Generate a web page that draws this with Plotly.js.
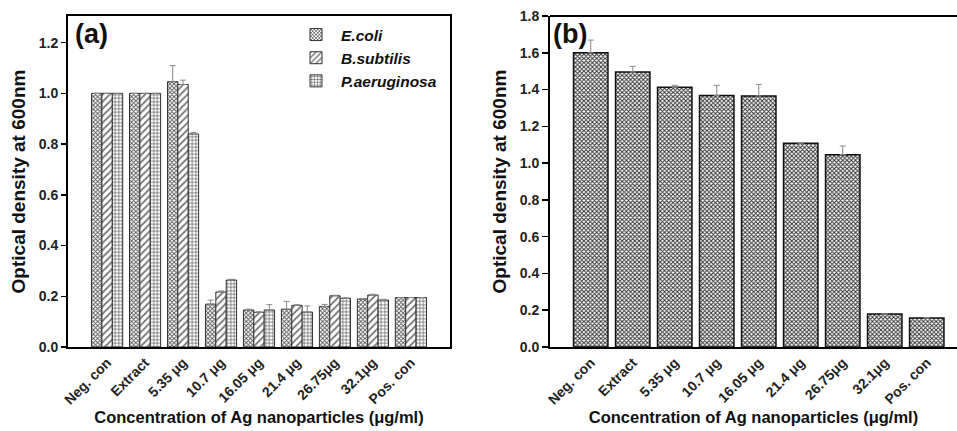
<!DOCTYPE html>
<html>
<head>
<meta charset="utf-8">
<script src="https://cdn.plot.ly/plotly-3.0.1.min.js"></script>
<style>html,body{margin:0;padding:0;background:#fff;}#chart{width:957px;height:431px;}</style>
</head>
<body>
<div id="chart"></div>
<script>
// Panel (a): categories and three bacterial series
const categories = ["Neg. con", "Extract", "5.35 μg", "10.7 μg", "16.05 μg", "21.4 μg", "26.75μg", "32.1μg", "Pos. con"];
const seriesNames = ["E.coli", "B.subtilis", "P.aeruginosa"];
const ecoli      = [1.0, 1.0, 1.046, 0.169, 0.146, 0.149, 0.160, 0.189, 0.195];
const ecoliErr   = [0.0, 0.0, 0.063, 0.016, 0.003, 0.031, 0.008, 0.002, 0.0];
const bsubtilis  = [1.0, 1.0, 1.035, 0.217, 0.137, 0.164, 0.202, 0.205, 0.195];
const bsubErr    = [0.0, 0.0, 0.017, 0.004, 0.002, 0.003, 0.002, 0.003, 0.0];
const paerug     = [1.0, 1.0, 0.840, 0.264, 0.146, 0.138, 0.192, 0.185, 0.195];
const paerErr    = [0.0, 0.0, 0.006, 0.003, 0.021, 0.024, 0.002, 0.003, 0.0];

// Panel (b): single series
const valuesB = [1.600, 1.495, 1.412, 1.367, 1.365, 1.108, 1.046, 0.179, 0.158];
const errB    = [0.069, 0.031, 0.011, 0.056, 0.063, 0.003, 0.047, 0.0, 0.0];

const yTicksA = [0, 0.2, 0.4, 0.6, 0.8, 1.0, 1.2];
const yTicksB = [0, 0.2, 0.4, 0.6, 0.8, 1.0, 1.2, 1.4, 1.6, 1.8];

const FONT = "Liberation Sans, Arial, sans-serif";
const zeros = categories.map(() => 0);

function errObj(arr) {
  return {type: "data", symmetric: false, array: arr, arrayminus: zeros,
          color: "#888", thickness: 1, width: 3, visible: true};
}

const patterns = [
  {shape: "x", size: 3, solidity: 0.5, fgcolor: "#555", bgcolor: "#fff"},
  {shape: "/", size: 5, solidity: 0.35, fgcolor: "#777", bgcolor: "#fff"},
  {shape: "+", size: 3.5, solidity: 0.35, fgcolor: "#555", bgcolor: "#fff"}
];
const seriesA = [ecoli, bsubtilis, paerug];
const errsA = [ecoliErr, bsubErr, paerErr];

const traces = seriesA.map((vals, i) => ({
  type: "bar", x: categories, y: vals, name: seriesNames[i],
  xaxis: "x", yaxis: "y",
  marker: {color: "#fff", line: {color: "#333", width: 1}, pattern: patterns[i]},
  error_y: errObj(errsA[i]),
  showlegend: true
}));

traces.push({
  type: "bar", x: categories, y: valuesB, name: "b",
  xaxis: "x2", yaxis: "y2", showlegend: false, offsetgroup: "b",
  marker: {color: "#fff", line: {color: "#111", width: 1.5},
           pattern: {shape: "x", size: 3, solidity: 0.55, fgcolor: "#333", bgcolor: "#fff"}},
  error_y: errObj(errB)
});

const axisCommon = {
  showline: true, linecolor: "#000", linewidth: 2, mirror: true,
  showgrid: false, zeroline: false, fixedrange: true
};
const tickFont = {family: FONT, size: 14, color: "#222", weight: "bold"};
const titleFont = {family: FONT, size: 19, color: "#111", weight: "bold"};
const xTitleFont = {family: FONT, size: 16.5, color: "#111", weight: "bold"};

const layout = {
  width: 957, height: 431,
  margin: {l: 0, r: 0, t: 0, b: 0},
  paper_bgcolor: "#fff", plot_bgcolor: "#fff",
  barmode: "group", bargap: 0.18, bargroupgap: 0,
  font: {family: FONT},
  xaxis: Object.assign({}, axisCommon, {
    domain: [68/957, 450/957], anchor: "y",
    range: [-1.03, 9.03], ticks: "", tickangle: -45, tickfont: tickFont,
    title: {text: "Concentration of Ag nanoparticles (μg/ml)", font: xTitleFont, standoff: 4}
  }),
  yaxis: Object.assign({}, axisCommon, {
    domain: [84/431, 415/431], anchor: "x",
    range: [0, 1.305], tickvals: yTicksA, ticktext: yTicksA.map(v => v.toFixed(1)),
    ticks: "outside", ticklen: 5, tickwidth: 1.5, tickcolor: "#000", tickfont: tickFont,
    title: {text: "Optical density at 600nm", font: titleFont, standoff: 8}
  }),
  xaxis2: Object.assign({}, axisCommon, {
    domain: [550/957, 1], anchor: "y2", mirror: false,
    range: [-0.97, 8.72], ticks: "", tickangle: -45, tickfont: tickFont,
    title: {text: "Concentration of Ag nanoparticles (μg/ml)", font: xTitleFont, standoff: 4}
  }),
  yaxis2: Object.assign({}, axisCommon, {
    domain: [84/431, 415/431], anchor: "x2", mirror: false,
    range: [0, 1.8], tickvals: yTicksB, ticktext: yTicksB.map(v => v.toFixed(1)),
    ticks: "outside", ticklen: 6, tickwidth: 1.5, tickcolor: "#000", tickfont: tickFont,
    title: {text: "Optical density at 600nm", font: titleFont, standoff: 8}
  }),
  shapes: [
    {type: "line", xref: "x2 domain", yref: "y2 domain", x0: 0, x1: 1, y0: 1, y1: 1,
     line: {color: "#000", width: 2}}
  ],
  legend: {
    x: 291/957, y: 1 - 18/431, xanchor: "left", yanchor: "top",
    bgcolor: "rgba(0,0,0,0)", borderwidth: 0, itemwidth: 40, tracegroupgap: 0,
    font: {family: FONT, size: 15.5, color: "#111", weight: "bold", style: "italic"}
  },
  annotations: [
    {text: "(a)", xref: "paper", yref: "paper", x: 73/957, y: 1 - 17/431,
     xanchor: "left", yanchor: "top", showarrow: false,
     font: {family: FONT, size: 27, color: "#111", weight: "bold"}},
    {text: "(b)", xref: "paper", yref: "paper", x: 551/957, y: 1 - 17/431,
     xanchor: "left", yanchor: "top", showarrow: false,
     font: {family: FONT, size: 27, color: "#111", weight: "bold"}}
  ]
};

Plotly.newPlot("chart", traces, layout, {displayModeBar: false, staticPlot: true});
</script>
</body>
</html>
